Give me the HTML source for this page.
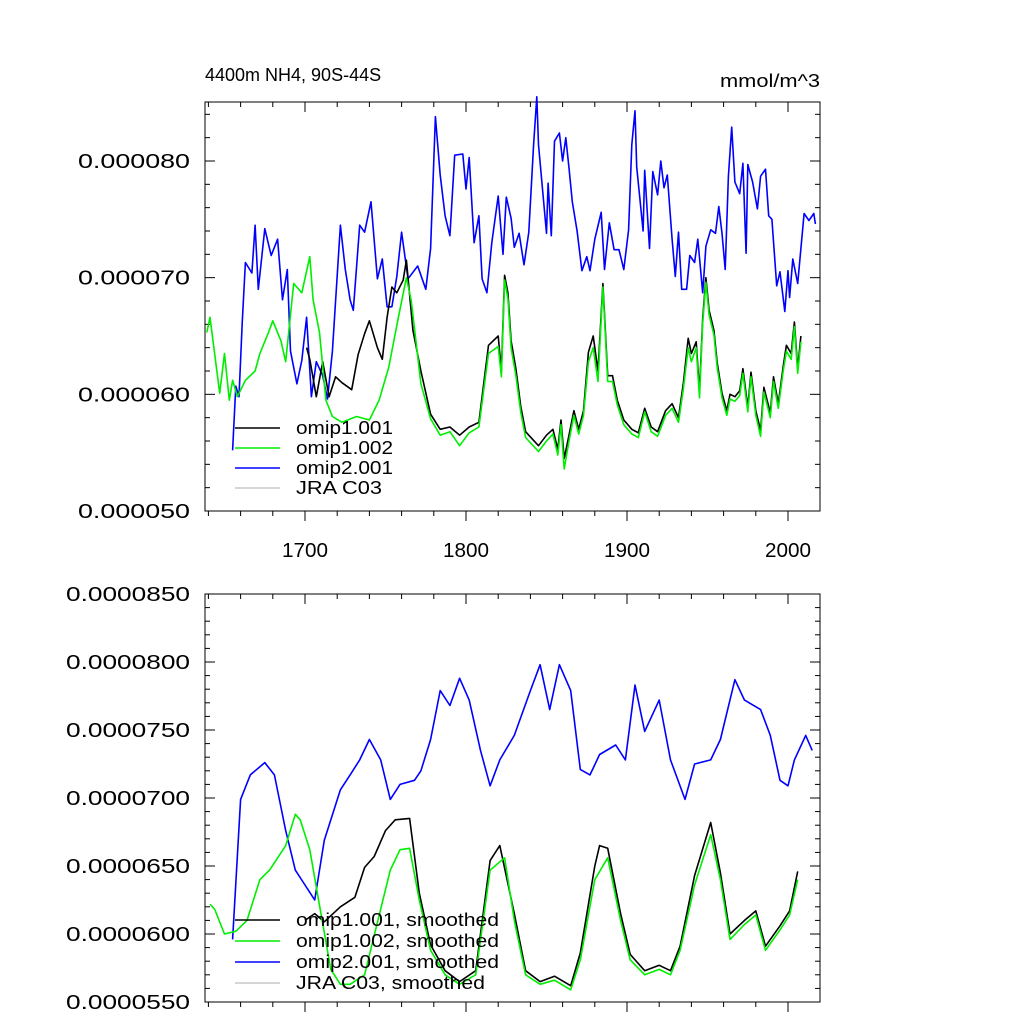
<!DOCTYPE html>
<html><head><meta charset="utf-8"><style>
body{margin:0;background:#fff}
svg{display:block;font-family:"Liberation Sans",sans-serif}
</style></head><body>
<svg id="chart" width="1024" height="1024" viewBox="0 0 1024 1024"></svg>
<script>
// ===== data (values in units of 1e-6 mmol/m^3) =====
const greenYears=[1639,1641,1647,1650,1653,1655,1658,1663,1669,1672,1677,1680,1685,1688,1693,1698,1703,1705,1709,1713,1717,1723,1732,1740,1746,1752,1758,1763,1766,1772,1778,1784,1790,1796,1802,1808,1814,1820,1822,1824,1826,1828,1831,1834,1837,1841,1845,1850,1854,1857,1859,1861,1864,1867,1870,1873,1876,1879,1882,1885,1888,1891,1894,1898,1903,1907,1911,1915,1919,1924,1928,1932,1935,1938,1940,1943,1945,1947,1949,1951,1954,1956,1959,1962,1964,1967,1970,1972,1975,1977,1980,1983,1985,1989,1991,1994,1997,1999,2002,2004,2006,2008];
const greenVals=[65.3,66.6,60.1,63.5,59.5,61.2,59.8,61.2,62,63.5,65.2,66.3,64.6,62.8,69.5,68.7,71.8,68.1,65.3,59.5,58.1,57.6,58.1,57.8,59.5,62.3,66.6,70,68,60.9,57.9,56.5,56.8,55.6,56.7,57.2,63.5,64.1,61.5,69.8,68.2,64,61.6,58.5,56.3,55.7,55.1,56,56.6,54.8,57.4,53.6,56,58.2,56.6,58.2,62.8,64,61.1,69.2,61.1,61.1,59.1,57.4,56.6,56.3,58.5,56.8,56.4,58.2,58.8,57.6,60.5,64,62.8,64,59.7,66.1,69.6,66.8,65.1,62.3,59.7,58.2,59.6,59.4,59.9,61.8,58.5,61.5,58.2,56.4,60.2,58,61.1,58.8,62,63.7,63,65.8,61.8,64.5];
const blackYears=[1701,1703,1707,1711,1715,1719,1723,1729,1733,1737,1740,1745,1748,1751,1754,1757,1761,1763,1767,1772,1778,1784,1790,1796,1802,1808,1814,1820,1822,1824,1826,1828,1831,1834,1837,1841,1845,1850,1854,1857,1859,1861,1864,1867,1870,1873,1876,1879,1882,1885,1888,1891,1894,1898,1903,1907,1911,1915,1919,1924,1928,1932,1935,1938,1940,1943,1945,1947,1949,1951,1954,1956,1959,1962,1964,1967,1970,1972,1975,1977,1980,1983,1985,1989,1991,1994,1997,1999,2002,2004,2006,2008];
const blackVals=[64,63,59.8,62.8,59.8,61.5,61,60.4,63.4,65.2,66.3,64,63,66.6,69.2,68.7,69.8,71.5,65.5,62,58.3,57,57.2,56.5,57.2,57.6,64.2,65,62,70.2,68.7,64.6,62.2,59,56.8,56.2,55.6,56.5,57,55.3,57.8,54.5,56.5,58.6,57,58.6,63.6,65,62,69.5,61.6,61.6,59.5,57.8,57,56.7,58.8,57.2,56.8,58.6,59.2,58,61,64.8,63.5,64.5,60.2,66.5,70,67.2,65.5,62.7,60.1,58.6,60,59.8,60.3,62.2,58.9,61.9,58.6,56.9,60.6,58.4,61.5,59.2,62.4,64.2,63.5,66.2,62.2,65];
const blueYears=[1655,1657,1659,1661,1663,1667,1669,1671,1675,1679,1683,1686,1689,1691,1695,1698,1701,1704,1707,1711,1714,1717,1722,1725,1728,1730,1734,1737,1741,1745,1748,1751,1754,1757,1760,1764,1770,1775,1778,1781,1784,1787,1790,1793,1798,1800,1802,1805,1808,1810,1813,1816,1820,1823,1825,1828,1830,1833,1836,1839,1842,1844,1845,1850,1851,1853,1855,1858,1860,1862,1864,1866,1869,1872,1875,1877,1880,1884,1886,1889,1892,1895,1898,1901,1903,1905,1906,1910,1911,1914,1916,1919,1921,1923,1925,1928,1930,1932,1934,1937,1939,1942,1944,1947,1949,1952,1955,1957,1959,1961,1963,1965,1967,1970,1972,1974,1975,1978,1981,1983,1986,1988,1990,1993,1995,1998,2000,2001,2003,2006,2010,2013,2016,2017];
const blueVals=[55.2,60.7,59.8,66.1,71.3,70.4,74.5,69,74.2,71.9,73.3,68.1,70.7,63.7,60.9,62.9,66.6,59.8,62.8,61.6,59.6,63.7,74.5,70.7,68.1,67.2,74.5,73.9,76.5,69.9,71.6,67.5,67.5,70.1,73.9,69.9,71,69,72.5,83.8,78.8,75.3,73.6,80.5,80.6,77.6,80.3,73,75.3,69.9,68.7,73,77,72,76.9,75.1,72.6,73.8,71.1,73.9,81.4,85.5,81.4,73.8,78.1,73.6,81.7,82.4,80,82,79.4,76.5,74,70.6,71.8,70.6,73.3,75.6,70.7,74.7,72.4,72.4,70.7,74.1,81.4,84.3,79.5,74,79.2,72.5,79.1,77.1,80,77.7,78.8,73.3,70.1,73.9,69,69,71.9,71.3,73.3,68.7,72.7,74.1,73.8,76.1,73.8,70.7,78.7,82.9,78.2,77.2,79.8,72.1,79.7,78.2,75.9,78.7,79.3,75.3,75,69.3,70.5,67.1,70.6,68.3,71.6,69.5,75.5,74.9,75.5,74.6];

const sGreenYears=[1641,1644,1650,1657,1664,1672,1678,1688,1694,1697,1703,1709,1716,1722,1728,1737,1743,1753,1759,1765,1771,1778,1787,1796,1806,1815,1824,1830,1837,1846,1855,1865,1871,1880,1888,1896,1902,1911,1920,1927,1933,1942,1952,1958,1964,1973,1980,1986,1995,2001,2006];
const sGreenVals=[62.2,61.8,60,60.2,61,64,64.7,66.5,68.8,68.4,66.2,62.1,57.4,56.3,56.3,57,59.9,64.7,66.2,66.3,62.5,58.8,57,56.3,57,64.7,65.6,61,57,56.3,56.6,55.9,58.1,64,65.6,61,58.1,57,57.4,57,58.8,63.6,67.3,64,59.6,60.7,61.4,58.8,60.3,61.4,64];
const sBlackYears=[1700,1706,1712,1722,1731,1737,1743,1750,1756,1765,1771,1778,1787,1796,1806,1815,1821,1830,1837,1846,1855,1865,1871,1880,1883,1888,1896,1902,1911,1920,1927,1933,1942,1952,1958,1964,1973,1980,1986,1995,2001,2006];
const sBlackVals=[61,61.5,60.9,62,62.7,64.9,65.7,67.6,68.4,68.5,63,59.2,57.3,56.5,57.3,65.4,66.5,61.5,57.3,56.5,56.9,56.2,58.6,65,66.5,66.3,61.5,58.5,57.3,57.7,57.3,59.1,64.3,68.2,64.5,60,61,61.7,59.1,60.6,61.7,64.6];
const sBlueYears=[1655,1660,1666,1675,1681,1688,1694,1700,1706,1712,1722,1728,1734,1740,1747,1753,1759,1768,1772,1778,1784,1790,1796,1802,1809,1815,1821,1830,1840,1846,1852,1858,1865,1871,1877,1883,1893,1899,1905,1911,1920,1927,1936,1942,1952,1958,1967,1973,1983,1989,1995,2000,2004,2011,2015];
const sBlueVals=[59.6,69.9,71.7,72.6,71.7,67.6,64.7,63.6,62.5,66.9,70.6,71.7,72.8,74.3,72.8,69.9,71,71.3,72,74.3,77.9,76.8,78.8,77.2,73.5,70.9,72.8,74.6,77.9,79.8,76.5,79.8,77.9,72.1,71.7,73.2,73.9,72.8,78.3,74.9,77.2,72.8,69.9,72.5,72.8,74.3,78.7,77.2,76.5,74.6,71.3,70.9,72.8,74.6,73.5];

const topTicks=[50,60,70,80];
const topTickLabels=["0.000050","0.000060","0.000070","0.000080"];
const botTicks=[55,60,65,70,75,80,85];
const botTickLabels=["0.0000550","0.0000600","0.0000650","0.0000700","0.0000750","0.0000800","0.0000850"];
const xTicks=[1700,1800,1900,2000];

// ===== drawing =====
const svg=document.getElementById('chart');
const NS='http://www.w3.org/2000/svg';
function mk(tag,attrs,parent){const e=document.createElementNS(NS,tag);for(const k in attrs)e.setAttribute(k,attrs[k]);(parent||svg).appendChild(e);return e;}
const X0=205,X1=820;
const xs=yr=>305+(yr-1700)*1.61;
const ysTop=v=>511-(v-50)*11.667;
const ysBot=v=>1002-(v-55)*13.6;

function frame(y0,y1,name){
  const g=mk('g',{});
  
  
  mk('rect',{x:X0,y:y0,width:X1-X0,height:y1-y0,fill:'none',stroke:'#000','stroke-width':1},g);
  for(let yr=1640;yr<=2020;yr+=20){
    const x=xs(yr);if(x<X0||x>X1)continue;
    const major=yr%100===0;
    mk('line',{x1:x,x2:x,y1:y0,y2:y0+(major?10:5),stroke:'#000'},g);
    mk('line',{x1:x,x2:x,y1:y1,y2:y1+(major?10:5),stroke:'#000'},g);
  }
  return g;
}
function yaxis(g,ys,ticks,labels,minStep,vmin,vmax,y0,y1,name){
  for(let v=vmin;v<=vmax+1e-9;v+=minStep){
    const y=ys(v);if(y<y0-0.5||y>y1+0.5)continue;
    const major=ticks.some(t=>Math.abs(t-v)<1e-6);
    mk('line',{x1:X0,x2:X0+(major?10:5),y1:y,y2:y,stroke:'#000'},g);
    mk('line',{x1:X1,x2:X1-(major?10:5),y1:y,y2:y,stroke:'#000'},g);
  }
  ticks.forEach((t,i)=>{
    const w=labels[i].length===8?112:124;
    const tx=mk('text',{x:190-w,y:ys(t)+7,'font-size':20,textLength:w,lengthAdjust:'spacingAndGlyphs'});
    
    
    tx.textContent=labels[i];
  });
}
function series(years,vals,ys,color,name){
  const d=years.map((yr,i)=>(i?'L':'M')+xs(yr).toFixed(1)+','+ys(vals[i]).toFixed(1)).join('');
  const p=mk('path',{d:d,fill:'none',stroke:color,'stroke-width':1.6,'stroke-linejoin':'round'});
  
  
}
function legend(entries,y0,dy,name){
  const g=mk('g',{});
  
  
  entries.forEach((e,i)=>{
    const y=y0+i*dy;
    mk('line',{x1:235,x2:280,y1:y,y2:y,stroke:e[1],'stroke-width':1.5},g);
    const t=mk('text',{x:296,y:y+6,'font-size':18,textLength:e[2],lengthAdjust:'spacingAndGlyphs'},g);
    
    
    t.textContent=e[0];
  });
}

// top panel
const gt=frame(102,511,'top-plot-frame');
yaxis(gt,ysTop,topTicks,topTickLabels,2,50,86,102,511,'top-y');
xTicks.forEach(yr=>{
  const t=mk('text',{x:xs(yr)-23,y:557,'font-size':20,textLength:46,lengthAdjust:'spacingAndGlyphs'});
  
  
  t.textContent=yr;
});
series(blueYears,blueVals,ysTop,'#0000ff','omip2-001-line');
series(blackYears,blackVals,ysTop,'#000000','omip1-001-line');
series(greenYears,greenVals,ysTop,'#00ee00','omip1-002-line');
legend([['omip1.001','#000',97],['omip1.002','#00ee00',97],['omip2.001','#0000ff',97],['JRA C03','#c8c8c8',86]],428,20,'top-legend');
let t=mk('text',{x:205,y:81,'font-size':18});


t.textContent='4400m NH4, 90S-44S';
t=mk('text',{x:720,y:87,'font-size':18,textLength:100,lengthAdjust:'spacingAndGlyphs'});


t.textContent='mmol/m^3';

// bottom panel
const gb=frame(594,1002,'bottom-plot-frame');
yaxis(gb,ysBot,botTicks,botTickLabels,1,55,85,594,1002,'bottom-y');
series(sBlueYears,sBlueVals,ysBot,'#0000ff','omip2-001-smoothed-line');
series(sBlackYears,sBlackVals,ysBot,'#000000','omip1-001-smoothed-line');
series(sGreenYears,sGreenVals,ysBot,'#00ee00','omip1-002-smoothed-line');
legend([['omip1.001, smoothed','#000',203],['omip1.002, smoothed','#00ee00',203],['omip2.001, smoothed','#0000ff',203],['JRA C03, smoothed','#c8c8c8',189]],920,21,'bottom-legend');
</script>
</body></html>
